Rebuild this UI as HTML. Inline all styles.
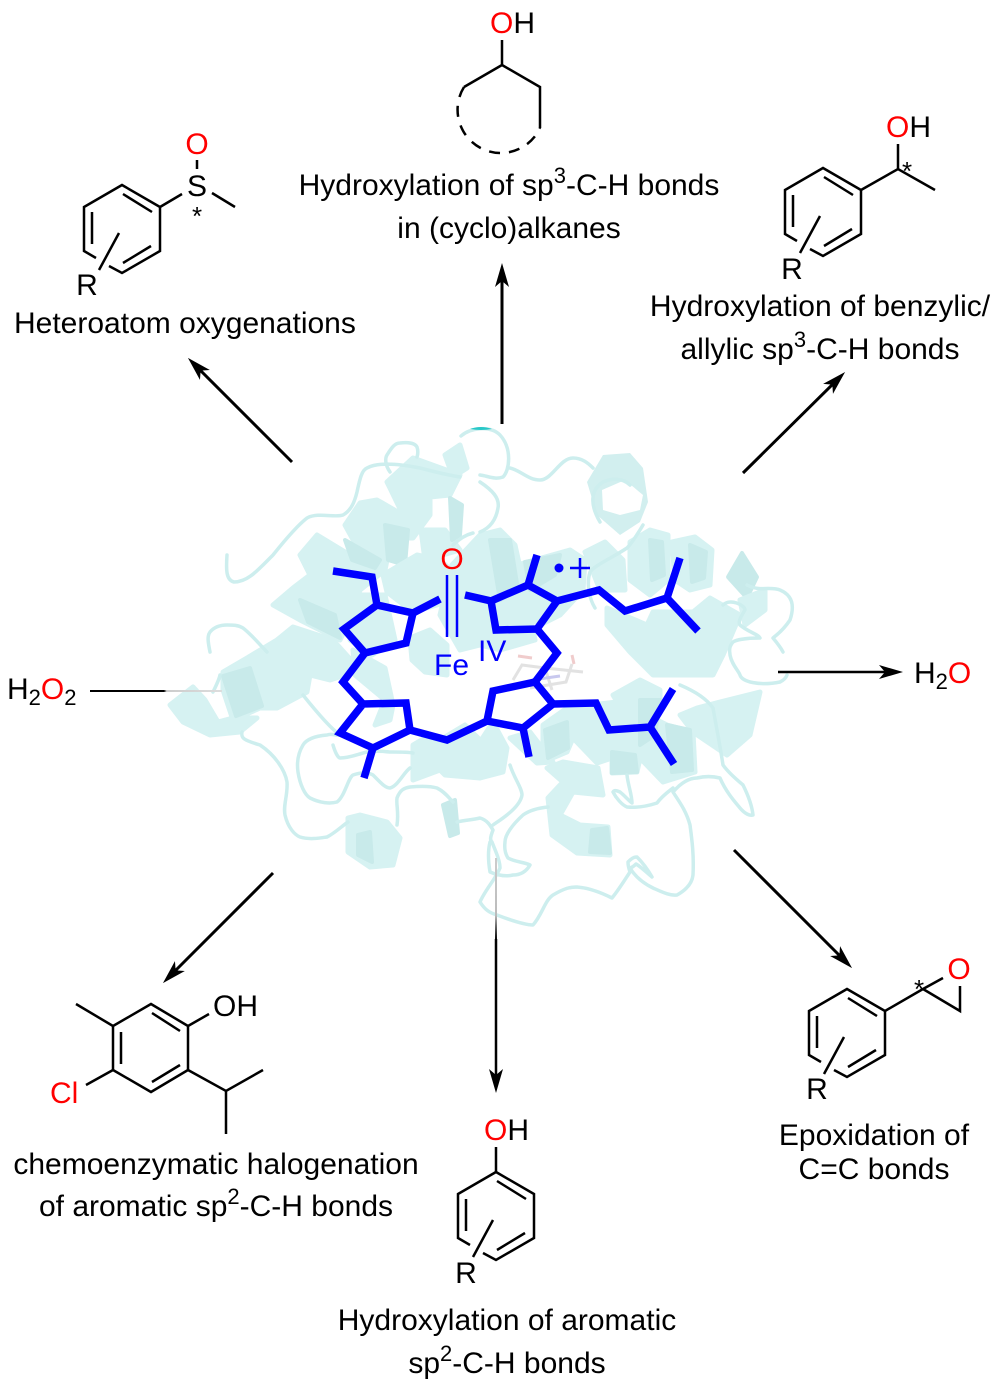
<!DOCTYPE html>
<html lang="en"><head><meta charset="utf-8"><title>Diagram</title>
<style>
html,body{margin:0;padding:0;background:#fff}
svg{display:block}
text{font-family:"Liberation Sans",sans-serif;font-size:30px;fill:#000}
.a{font-size:30px}
.r{fill:#f00}
.b{fill:#00f}
.k{fill:none;stroke:#000;stroke-width:2.5}
.w{fill:none;stroke:#000;stroke-width:3}
.bl{fill:none;stroke:#00f;stroke-width:7.5;stroke-linejoin:miter;stroke-linecap:butt}
.lp{fill:none;stroke:#cdeeee;stroke-width:3.5;stroke-linejoin:round;stroke-linecap:round}
.p{fill:#d6f2f2;stroke:#d6f2f2;stroke-width:5;stroke-linejoin:round}
.d{fill:#c8eaea;stroke:#c8eaea;stroke-width:4;stroke-linejoin:round}
.m{text-anchor:middle}
.st{font-size:26px}
.su{font-size:22px}
</style></head><body>
<svg xmlns="http://www.w3.org/2000/svg" width="1000" height="1389" viewBox="0 0 1000 1389">
<defs>
<marker id="ah" markerUnits="userSpaceOnUse" viewBox="0 -8 30 16" refX="20" refY="0" markerWidth="30" markerHeight="16" orient="auto"><path d="M6,-7 L30,0 L6,7 L12,0 Z" fill="#000"/></marker>
<g id="ar">
<path class="k" stroke-linejoin="miter" d="M-13,37 L0,44 L38,22 L38,-22 L0,-44 L-38,-22 L-38,22 L-26,29"/>
<path class="k" d="M1,-35 L30,-17 M1,34 L29,17 M-30,-17 L-30,15 M-3,4 L-23,41"/>
</g>
<linearGradient id="gv" gradientUnits="userSpaceOnUse" x1="0" y1="858" x2="0" y2="940"><stop offset="0" stop-color="#ccc"/><stop offset=".7" stop-color="#bbb"/><stop offset="1" stop-color="#000"/></linearGradient>
<linearGradient id="gh" gradientUnits="userSpaceOnUse" x1="90" y1="0" x2="222" y2="0"><stop offset="0" stop-color="#000"/><stop offset=".56" stop-color="#000"/><stop offset=".58" stop-color="#ccc"/><stop offset="1" stop-color="#ddd"/></linearGradient>
</defs>

<!-- protein ribbons -->
<g>
<!-- left side -->
<polygon class="p" points="387,482 413,458 460,475 450,495 430,497 430,515 413,538 390,538 387,558 367,565 345,525 360,503 377,500 403,515 390,488"/>
<polygon class="p" points="300,555 317,535 350,555 387,560 385,570 360,590 350,620 340,640 300,620 273,605 293,588 310,575"/>
<polygon class="p" points="223,672 247,658 277,640 293,627 333,640 360,670 330,680 310,675 307,692 277,708 260,708 233,720 223,690"/>
<polygon class="p" points="170,705 193,687 205,700 218,722 233,718 257,718 240,732 210,735 183,722"/>
<polygon class="d" points="223,676 250,668 262,706 236,716"/>
<polygon class="d" points="345,540 380,560 375,568 352,560"/>
<polygon class="d" points="385,525 408,530 405,565 388,560"/>
<polygon class="d" points="300,600 335,615 340,638 308,622"/>
<polygon class="p" points="383,575 417,555 440,560 453,572 447,602 413,612 387,592"/>
<polygon class="p" points="360,595 385,595 395,640 372,655 350,640"/>
<polygon class="p" points="410,638 430,630 447,645 447,675 425,672 412,660"/>
<polygon class="p" points="353,650 385,668 393,705 390,720 375,725 385,700 355,675"/>
<polygon class="p" points="421,530 445,530 460,550 425,560"/>
<polygon class="p" points="445,455 460,445 467,468 453,477"/>
<polygon class="d" points="450,498 462,505 460,535 452,540"/>
<polygon class="p" points="348,818 360,815 387,822 400,838 393,865 370,867 348,852"/>
<polygon class="d" points="358,835 370,832 372,862 358,855"/>
<polygon class="p" points="413,745 430,735 440,740 465,725 480,740 480,778 445,775 440,770 413,780"/>
<polygon class="d" points="443,805 455,800 458,833 450,836"/>
<!-- centre -->
<polygon class="p" points="452,565 480,535 500,530 515,545 525,590 535,640 500,650 480,645 460,650 440,615"/>
<polygon class="p" points="517,565 570,550 585,560 583,590 560,615 540,625 520,610"/>
<polygon class="d" points="490,540 510,540 518,590 500,600"/>
<polygon class="d" points="525,562 560,555 555,575 530,590"/>
<!-- upper right -->
<path d="M587,482 L603,455 L630,453 L643,468 L648,502 L640,522 L620,535 L597,515 Z M602,490 L625,480 L643,495 L640,510 L620,515 L603,510 Z" fill="#d2efef" fill-rule="evenodd"/>
<polygon class="p" points="585,552 605,542 623,560 625,590 600,590"/>
<polygon class="p" points="630,542 650,530 668,535 668,580 650,595 630,580"/>
<polygon class="p" points="672,542 695,537 712,550 710,585 690,590 675,580"/>
<polygon class="d" points="650,540 662,542 664,575 652,580"/>
<polygon class="d" points="690,545 706,552 704,578 692,582"/>
<polygon class="p" points="607,608 647,625 653,612 693,612 710,598 740,615 723,655 713,675 653,675 630,652 607,625"/>
<polygon class="d" points="728,577 742,553 757,577 747,598"/>
<polygon class="p" points="740,600 765,590 765,610 745,625"/>
<!-- lower right -->
<polygon class="p" points="720,702 760,692 750,735 727,755 693,732 680,715 697,708"/>
<polygon class="p" points="543,725 567,708 633,700 647,715 667,725 693,732 695,772 663,782 640,758 637,772 612,773 612,758 597,763 573,738 567,752 543,762"/>
<polygon class="p" points="613,695 640,680 660,690 660,710 625,715"/>
<polygon class="p" points="480,742 493,722 507,748 503,772 480,778"/>
<polygon class="p" points="510,738 530,732 553,762 537,763"/>
<polygon class="d" points="667,725 690,730 692,770 672,772"/>
<polygon class="d" points="640,700 660,700 655,735 640,745"/>
<polygon class="d" points="545,730 567,722 568,748 548,758"/>
<polygon class="p" points="548,798 563,782 547,768 563,762 598,768 603,795 573,792 560,815 580,825 608,827 610,855 577,853 552,835"/>
<polygon class="d" points="592,830 607,828 610,853 590,852"/>
<polygon class="d" points="612,752 635,755 637,772 612,773"/>

<!-- loops -->
<path class="lp" d="M461,436 C470,428 490,425 500,435 C512,448 510,470 503,477 C495,480 488,476 480,475"/>
<path class="lp" d="M510,468 C520,470 528,480 540,480 C552,480 560,458 573,458 C582,458 588,463 593,468"/>
<path class="lp" d="M480,482 C492,490 500,498 498,508 C496,520 490,528 480,532"/>
<path class="lp" d="M600,522 C590,505 590,490 603,482 C612,478 623,478 630,485"/>
<path class="lp" d="M643,525 C637,535 630,545 627,548 C612,558 595,565 590,572 C586,585 590,600 595,608"/>
<path class="lp" d="M747,585 C760,592 770,586 780,590 C792,595 795,605 790,620 C782,632 775,636 773,638 C778,644 782,650 783,652"/>
<path class="lp" d="M723,605 C730,598 745,605 745,610 C740,618 738,622 740,625 C748,632 758,634 760,638 C745,638 736,640 733,642 C728,648 730,652 730,655 C732,665 738,670 740,675 C742,682 760,686 780,682 C784,680 786,678 787,675"/>
<path class="lp" d="M227,555 C226,570 226,580 234,582 C248,582 258,570 273,555 C285,540 298,525 307,518 C318,512 335,518 343,515 C352,510 355,500 357,492 C360,478 362,470 367,468 C378,462 400,464 420,468 C435,472 448,475 460,477"/>
<path class="lp" d="M390,472 C385,465 385,458 387,455 C392,447 395,443 400,443 C408,442 415,443 417,447 C418,450 418,454 417,457"/>
<path class="lp" d="M210,652 C208,642 207,636 210,632 C215,626 222,625 227,625 C233,625 238,625 243,628 C252,635 260,645 267,652"/>
<path class="lp" d="M213,692 C216,686 219,680 220,675"/>
<path class="lp" d="M242,732 C241,738 243,740 260,745 C275,755 285,770 287,782 C288,795 283,805 285,815 C288,828 295,835 300,837 C310,840 320,838 327,837 C335,833 342,826 348,822"/>
<path class="lp" d="M303,695 C315,710 330,728 340,735 C336,736 332,733 327,735 C314,736 306,740 303,745 C297,755 297,765 298,772 C300,785 305,795 310,798 C320,803 330,804 337,802 C345,796 348,778 353,775 C362,772 368,772 373,775 C380,782 385,788 390,788 C398,786 404,772 410,768"/>
<path class="lp" d="M333,745 C335,752 338,758 340,758 C350,758 358,754 367,752 C378,750 385,752 393,752 C400,752 408,752 413,753"/>
<path class="lp" d="M397,825 C399,812 396,805 397,798 C400,790 404,788 410,787 C420,786 430,786 437,788 C445,792 449,798 453,802"/>
<path class="lp" d="M457,822 C465,820 472,820 480,818 C487,820 490,825 493,830 C490,838 490,840 492,842 C495,850 500,860 500,868 C495,880 485,890 480,902 C485,910 490,913 497,915 C510,920 525,925 533,925 C542,915 545,900 553,895 C565,888 570,887 577,887 C590,888 602,893 612,898 C620,888 626,878 630,872 C628,866 628,864 628,862 C632,858 634,857 637,857 C642,862 648,870 652,877 C646,872 640,866 636,864 C632,868 630,868 630,868 C636,878 645,884 653,888 C662,892 670,896 677,895 C686,890 692,884 693,875 C694,855 692,840 690,825 C686,810 678,800 673,792 C680,784 688,778 697,778 C705,776 712,776 720,778 C726,792 735,802 740,808 C745,814 750,816 753,815 C752,806 748,795 743,785 C735,778 728,772 723,765 C720,745 716,725 713,708 C706,698 692,690 680,685"/>
<path class="lp" d="M510,765 C514,778 522,788 522,795 C520,808 500,820 493,825"/>
<path class="lp" d="M548,807 C538,808 530,810 523,815 C512,825 505,835 505,842 C504,850 506,855 508,858 C515,862 524,862 530,865 C526,872 520,875 513,875 C505,877 497,875 490,872 C488,860 488,850 490,842"/>
<path class="lp" d="M627,775 C628,785 632,795 632,803 C628,800 624,795 620,792 C616,790 614,790 613,792 C616,798 622,805 627,807 C638,808 648,806 657,803 C662,796 668,792 673,788"/>
<path class="lp" d="M453,545 C458,540 465,535 473,533"/>
<path d="M470,429 Q481,425 492,429 Q481,431 470,429 Z" fill="#28c8c8"/>
<!-- faint ligand -->
<path d="M513,680 L522,665 L545,668 L583,672 M530,688 L566,682 L572,664 M545,668 L552,690" fill="none" stroke="#ddd" stroke-width="3" opacity=".85"/>
<path d="M532,680 L560,676" fill="none" stroke="#c8c8ee" stroke-width="3"/>
<path d="M518,656 L532,658 M572,655 L574,664" fill="none" stroke="#f0cccc" stroke-width="3"/>
</g>

<!-- heme -->
<path class="bl" d="M333,571 L372,577 L377,605 L413,613 L440,599"/>
<path class="bl" d="M413,613 L406,643 L365,653 L344,629 L377,605"/>
<path class="bl" d="M365,653 L343,682 L363,704 L406,703 L410,730 L373,748 L340,733 L363,704"/>
<path class="bl" d="M373,748 L364,778"/>
<path class="bl" d="M410,730 L447,740 L487,721 L493,691 L535,682 L553,704 L523,728 L487,721"/>
<path class="bl" d="M523,728 L529,757"/>
<path class="bl" d="M553,704 L596,703 L609,730 L650,727 L673,689"/>
<path class="bl" d="M650,727 L674,764"/>
<path class="bl" d="M535,682 L557,653 L537,629 L496,630 L491,601 L465,595"/>
<path class="bl" d="M491,601 L528,585 L557,601 L537,629"/>
<path class="bl" d="M528,585 L537,555"/>
<path class="bl" d="M557,601 L599,590 L625,611 L667,598 L680,558"/>
<path class="bl" d="M667,598 L698,631"/>
<path d="M447,575 L447,637 M457,575 L457,637" fill="none" stroke="#00f" stroke-width="2.5"/>
<text class="a r m" x="452" y="569">O</text>
<text class="b" x="434" y="675">Fe</text>
<text class="b" x="478" y="661">IV</text>
<circle cx="559" cy="568" r="4.5" fill="#00f"/>
<path d="M580,558 L580,578 M570,568 L590,568" fill="none" stroke="#00f" stroke-width="2.5"/>

<!-- arrows -->
<path class="w" marker-end="url(#ah)" d="M292,462 L195,365"/>
<path class="w" marker-end="url(#ah)" d="M502,424 L502,273"/>
<path class="w" marker-end="url(#ah)" d="M743,473 L838,379"/>
<path class="k" marker-end="url(#ah)" d="M778,672 L893,672"/>
<path class="w" marker-end="url(#ah)" d="M734,850 L845,961"/>
<path class="w" marker-end="url(#ah)" d="M273,873 L170,976"/>
<rect x="90" y="690" width="132" height="2" fill="url(#gh)"/>
<rect x="495" y="858" width="2" height="82" fill="url(#gv)"/>
<path class="k" marker-end="url(#ah)" d="M496,939 L496,1083"/>

<!-- heteroatom oxygenation -->
<use href="#ar" x="122" y="229"/>
<text class="a m" x="87" y="295">R</text>
<text class="a r m" x="197" y="154">O</text>
<text class="a m" x="197" y="196">S</text>
<path class="k" d="M197,160 L197,169 M160,207 L182,194 M212,193 L235,207"/>
<text class="m st" x="197" y="225">*</text>
<text x="14" y="333">Heteroatom oxygenations</text>

<!-- cycloalkane -->
<text class="a" x="490" y="33"><tspan class="r">O</tspan>H</text>
<path class="k" d="M502,40 L502,65 L540,87 L540,128 M502,65 L464,87"/>
<path class="k" stroke-dasharray="11 9" d="M464,87 A43.3,43.3 0 0 0 502,153 A43.3,43.3 0 0 0 540,128"/>
<text class="m" x="509" y="195">Hydroxylation of sp<tspan dy="-12" class="su">3</tspan><tspan dy="12">-C-H bonds</tspan></text>
<text class="m" x="509" y="238">in (cyclo)alkanes</text>

<!-- benzylic -->
<use href="#ar" x="823" y="212"/>
<text class="a m" x="792" y="279">R</text>
<text class="a" x="886" y="137"><tspan class="r">O</tspan>H</text>
<path class="k" d="M898,144 L898,169 M861,190 L898,169 L935,190"/>
<text class="m st" x="907" y="180">*</text>
<text class="m" x="820" y="316">Hydroxylation of benzylic/</text>
<text class="m" x="820" y="359">allylic sp<tspan dy="-12" class="su">3</tspan><tspan dy="12">-C-H bonds</tspan></text>

<!-- H2O2 / H2O -->
<text class="a" x="7" y="699">H<tspan dy="6" class="su">2</tspan><tspan dy="-6" class="r">O</tspan><tspan dy="6" class="su">2</tspan></text>
<text class="a" x="914" y="683">H<tspan dy="6" class="su">2</tspan><tspan dy="-6" class="r">O</tspan></text>

<!-- halogenation -->
<path class="k" d="M151,1004 L188,1026 L188,1070 L151,1092 L113,1070 L113,1026 Z"/>
<path class="k" d="M152,1013 L180,1031 M152,1082 L180,1065 M121,1032 L121,1064"/>
<path class="k" d="M188,1026 L209,1014 M113,1026 L76,1004 M113,1070 L86,1085 M188,1070 L226,1091 L263,1070 M226,1091 L226,1134"/>
<text class="a" x="213" y="1016">OH</text>
<text class="a r" x="50" y="1103">Cl</text>
<text class="m" x="216" y="1174">chemoenzymatic halogenation</text>
<text class="m" x="216" y="1216">of aromatic sp<tspan dy="-12" class="su">2</tspan><tspan dy="12">-C-H bonds</tspan></text>

<!-- phenol -->
<use href="#ar" x="496" y="1216"/>
<text class="a m" x="466" y="1283">R</text>
<text class="a" x="484" y="1140"><tspan class="r">O</tspan>H</text>
<path class="k" d="M496,1147 L496,1172"/>
<text class="m" x="507" y="1330">Hydroxylation of aromatic</text>
<text class="m" x="507" y="1373">sp<tspan dy="-12" class="su">2</tspan><tspan dy="12">-C-H bonds</tspan></text>

<!-- epoxide -->
<use href="#ar" x="847" y="1033"/>
<text class="a m" x="817" y="1099">R</text>
<path class="k" d="M885,1011 L923,989 L943,978 M923,989 L960,1011 L960,986"/>
<text class="a r m" x="959" y="979">O</text>
<text class="m st" x="919" y="998">*</text>
<text class="m" x="874" y="1145">Epoxidation of</text>
<text class="m" x="874" y="1179">C=C bonds</text>
</svg>
</body></html>
